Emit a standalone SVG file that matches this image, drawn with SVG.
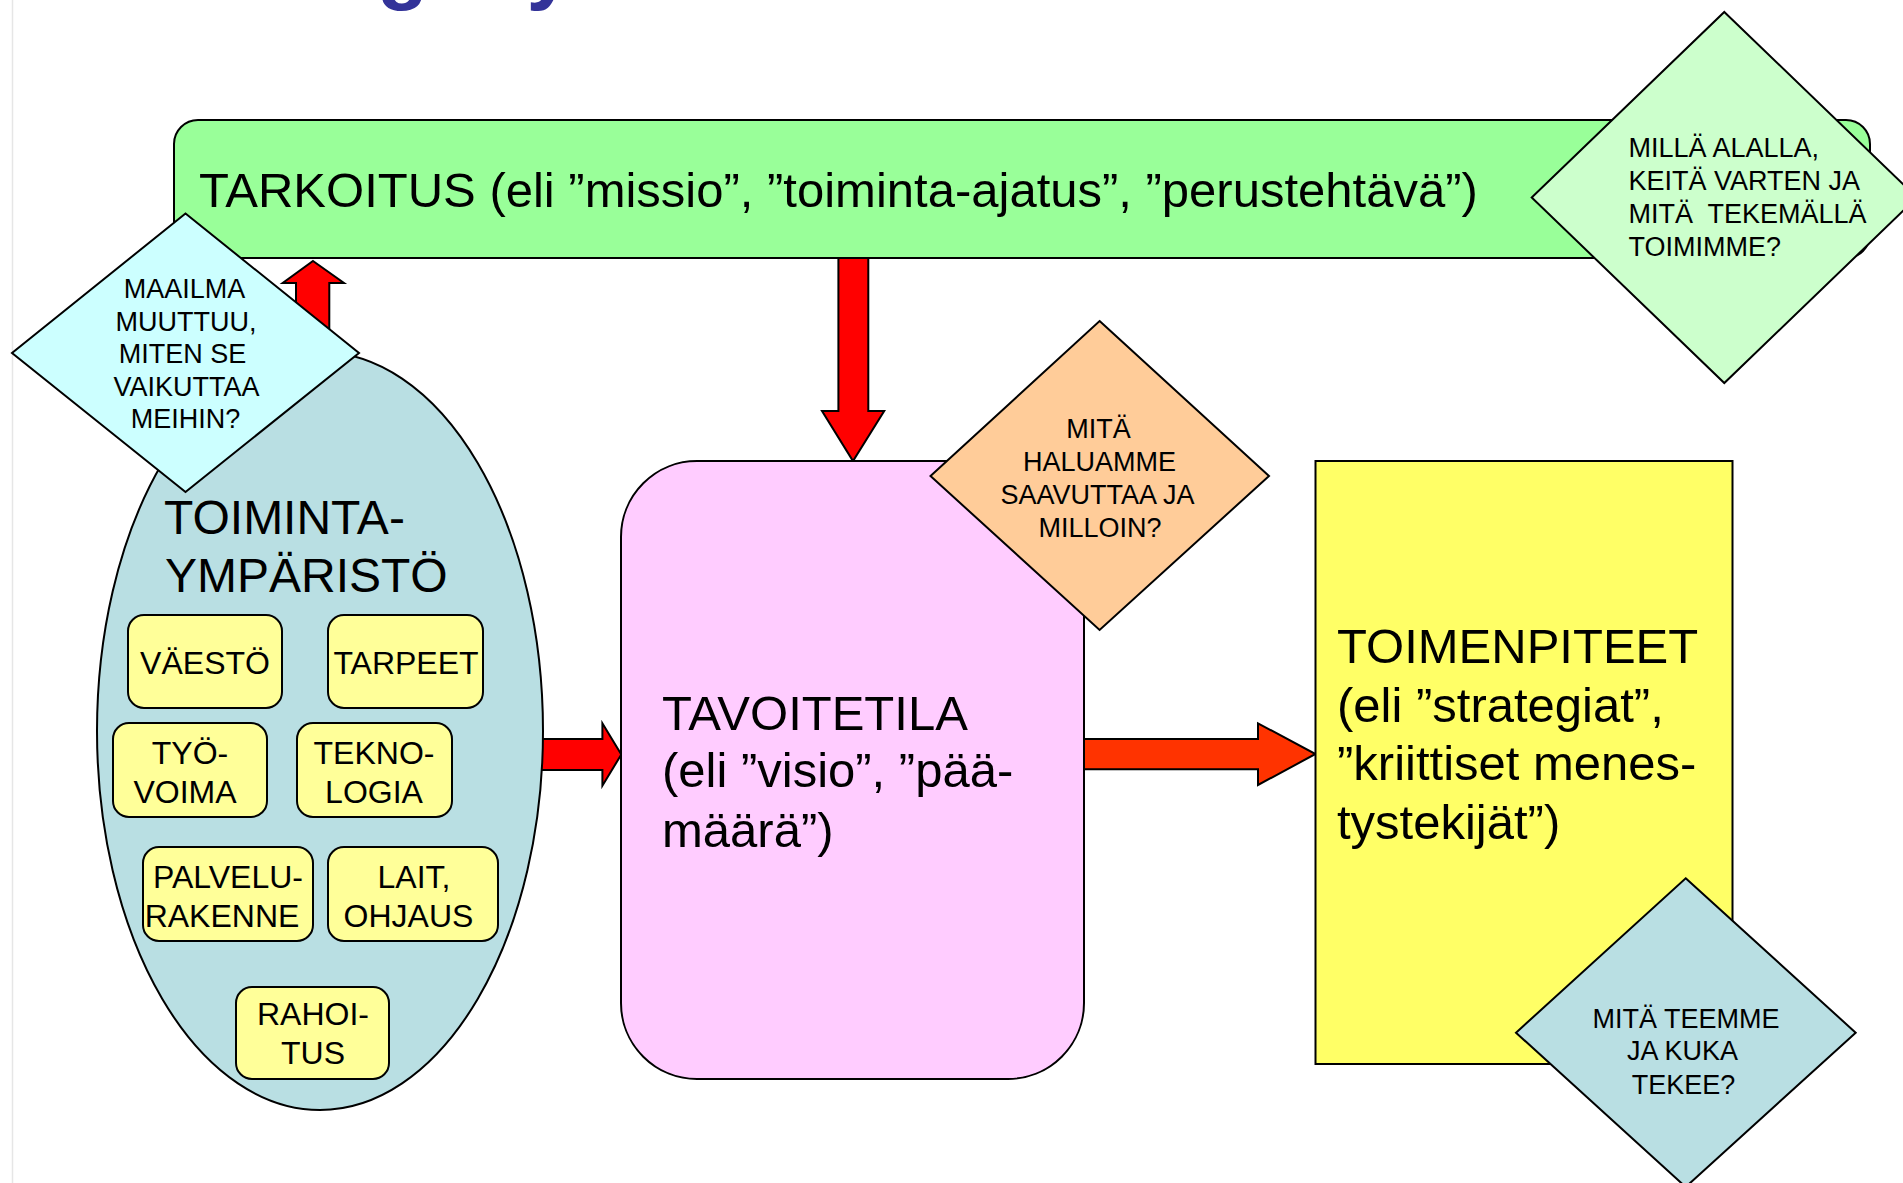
<svg xmlns="http://www.w3.org/2000/svg" width="1903" height="1183" viewBox="0 0 1903 1183">
<style>
text{font-family:"Liberation Sans",Arial,sans-serif;fill:#000}
.box{stroke:#000;stroke-width:2}
.dia{stroke:#000;stroke-width:2}
.big{font-size:49px}
.env{font-size:48px}
.sm{font-size:32px;text-anchor:middle}
.q{font-size:27px;text-anchor:middle}
.ql{font-size:27px;white-space:pre}
.arrow{stroke:#000;stroke-width:2;stroke-linejoin:miter}
.yb{fill:#FFFF99;stroke:#000;stroke-width:2}
</style>
<rect x="0" y="0" width="1903" height="1183" fill="#fff"/>
<line x1="12.5" y1="0" x2="12.5" y2="1183" stroke="#e6e6e6" stroke-width="1.5"/>
<text x="139" y="-6" style="font-size:84px;font-weight:bold;fill:#333399">Strategiatyö</text>

<g id="connectors">
<polygon class="arrow" fill="#FF0000" points="313,261 344,283 329.3,283 329.3,372 296,372 296,283 282.7,283"/>
<polygon class="arrow" fill="#FF0000" points="838.4,258 868.3,258 868.3,411 884.2,411 853,461 822,411 838.4,411"/>
<polygon class="arrow" fill="#FF0000" points="530,739 602.4,739 602.4,723.3 621.3,754.5 602.4,785.7 602.4,770 530,770"/>
<polygon class="arrow" fill="#FF3300" points="1084,739 1258,739 1258,723.3 1315.5,754 1258,785 1258,769.3 1084,769.3"/>
</g>

<g id="tarkoitus">
<rect class="box" x="174" y="120" width="1696" height="138" rx="24" ry="24" fill="#99FF99"/>
<text class="big" x="199" y="207">TARKOITUS (eli ”missio”, ”toiminta-ajatus”, ”perustehtävä”)</text>
</g>

<g id="q-milla">
<polygon class="dia" fill="#CCFFCC" points="1724.3,12 1917,197.5 1724.3,383 1531.7,197.5"/>
<text class="ql" x="1628.5" y="157">MILLÄ ALALLA,</text>
<text class="ql" x="1628.5" y="190">KEITÄ VARTEN JA</text>
<text class="ql" x="1628.5" y="223">MITÄ  TEKEMÄLLÄ</text>
<text class="ql" x="1628.5" y="256">TOIMIMME?</text>
</g>

<g id="toimintaymparisto">
<ellipse class="box" cx="320" cy="731" rx="223" ry="379" fill="#B9DFE3"/>
<text class="env" x="164" y="534">TOIMINTA-</text>
<text class="env" x="165" y="592">YMPÄRISTÖ</text>
</g>

<g id="vaesto">
<rect class="yb" x="128" y="615" width="154" height="93" rx="16"/>
<text class="sm" x="205" y="674">VÄESTÖ</text>
</g>
<g id="tarpeet">
<rect class="yb" x="328" y="615" width="155" height="93" rx="16"/>
<text class="sm" x="406" y="674">TARPEET</text>
</g>
<g id="tyovoima">
<rect class="yb" x="113" y="723" width="154" height="94" rx="16"/>
<text class="sm" x="190" y="764">TYÖ-</text>
<text class="sm" x="185" y="802.5">VOIMA</text>
</g>
<g id="teknologia">
<rect class="yb" x="297" y="723" width="155" height="94" rx="16"/>
<text class="sm" x="374" y="764">TEKNO-</text>
<text class="sm" x="374" y="802.5">LOGIA</text>
</g>
<g id="palvelurakenne">
<rect class="yb" x="143" y="847" width="170" height="94" rx="16"/>
<text class="sm" x="228" y="888">PALVELU-</text>
<text class="sm" x="222" y="926.5">RAKENNE</text>
</g>
<g id="laitohjaus">
<rect class="yb" x="328" y="847" width="170" height="94" rx="16"/>
<text class="sm" x="414" y="888">LAIT,</text>
<text class="sm" x="408.5" y="926.5">OHJAUS</text>
</g>
<g id="rahoitus">
<rect class="yb" x="236" y="987" width="153" height="92" rx="16"/>
<text class="sm" x="313" y="1025">RAHOI-</text>
<text class="sm" x="313" y="1063.5">TUS</text>
</g>

<g id="q-maailma">
<polygon class="dia" fill="#CCFFFF" points="185.5,213.5 359,353 185.5,492 12,353"/>
<text class="q" x="184.5" y="298">MAAILMA</text>
<text class="q" x="186" y="330.5">MUUTTUU,</text>
<text class="q" x="182.5" y="363">MITEN SE</text>
<text class="q" x="186.5" y="395.5">VAIKUTTAA</text>
<text class="q" x="185.5" y="428">MEIHIN?</text>
</g>

<g id="tavoitetila">
<rect class="box" x="621" y="461" width="463" height="618" rx="76" ry="76" fill="#FFCCFF"/>
<text class="big" x="662" y="730">TAVOITETILA</text>
<text class="big" x="662" y="787">(eli ”visio”, ”pää-</text>
<text class="big" x="662" y="846.5">määrä”)</text>
</g>

<g id="q-mita-haluamme">
<polygon class="dia" fill="#FFCC99" points="1099.6,321 1269,476 1099.6,630 930.5,476"/>
<text class="q" x="1098.5" y="437.5">MITÄ</text>
<text class="q" x="1099.5" y="470.5">HALUAMME</text>
<text class="q" x="1097.5" y="504">SAAVUTTAA JA</text>
<text class="q" x="1100" y="537">MILLOIN?</text>
</g>

<g id="toimenpiteet">
<rect class="box" x="1315.5" y="461" width="417" height="603" fill="#FFFF66"/>
<text class="big" x="1337" y="663">TOIMENPITEET</text>
<text class="big" x="1337" y="721.5">(eli ”strategiat”,</text>
<text class="big" x="1337" y="780">”kriittiset menes-</text>
<text class="big" x="1337" y="838.5">tystekijät”)</text>
</g>

<g id="q-mita-teemme">
<polygon class="dia" fill="#B9DFE3" points="1685.7,878.3 1855.7,1032.7 1685.7,1187 1516,1032.7"/>
<text class="q" x="1686" y="1027.5">MITÄ TEEMME</text>
<text class="q" x="1682.5" y="1060">JA KUKA</text>
<text class="q" x="1683.5" y="1093.5">TEKEE?</text>
</g>
</svg>
